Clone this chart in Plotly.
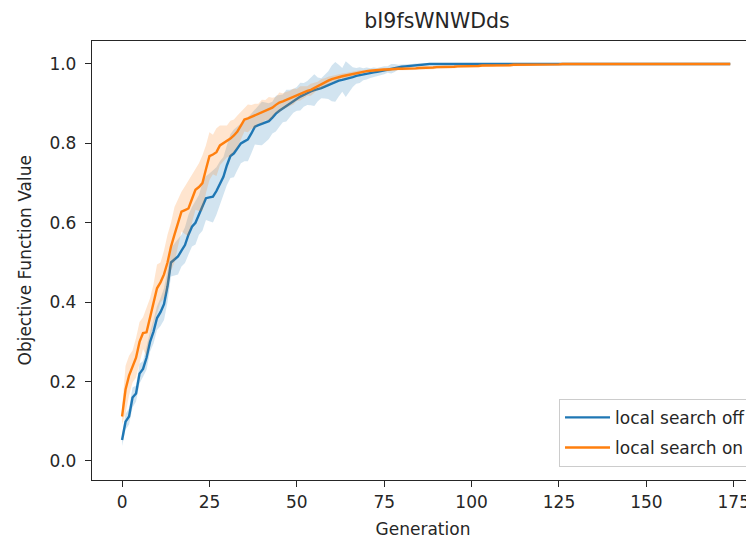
import plotly.graph_objects as go

generations = list(range(175))

off_mean = [
    0.053, 0.099, 0.112, 0.160, 0.170, 0.220, 0.232, 0.260, 0.300, 0.326,
    0.360, 0.375, 0.395, 0.440, 0.500, 0.508, 0.515, 0.530, 0.544, 0.570,
    0.590, 0.600, 0.620, 0.640, 0.662, 0.664, 0.666, 0.680, 0.700, 0.716,
    0.745, 0.768, 0.775, 0.788, 0.800, 0.805, 0.810, 0.825, 0.842, 0.846,
    0.850, 0.853, 0.856, 0.865, 0.875, 0.882, 0.888, 0.895, 0.900, 0.907,
    0.912, 0.918, 0.922, 0.927, 0.931, 0.934, 0.936, 0.939, 0.943, 0.947,
    0.951, 0.955, 0.958, 0.960, 0.962, 0.964, 0.967, 0.970, 0.972, 0.974,
    0.976, 0.977, 0.979, 0.980, 0.982, 0.984, 0.986, 0.988, 0.990, 0.992,
    0.993, 0.994, 0.995, 0.996, 0.997, 0.998, 0.999, 1.000, 1.000, 1.000,
    1.000, 1.000, 1.000, 1.000, 1.000, 1.000, 1.000, 1.000, 1.000, 1.000,
    1.000, 1.000, 1.000, 1.000, 1.000, 1.000, 1.000, 1.000, 1.000, 1.000,
    1.000, 1.000, 1.000, 1.000, 1.000, 1.000, 1.000, 1.000, 1.000, 1.000,
    1.000, 1.000, 1.000, 1.000, 1.000, 1.000, 1.000, 1.000, 1.000, 1.000,
    1.000, 1.000, 1.000, 1.000, 1.000, 1.000, 1.000, 1.000, 1.000, 1.000,
    1.000, 1.000, 1.000, 1.000, 1.000, 1.000, 1.000, 1.000, 1.000, 1.000,
    1.000, 1.000, 1.000, 1.000, 1.000, 1.000, 1.000, 1.000, 1.000, 1.000,
    1.000, 1.000, 1.000, 1.000, 1.000, 1.000, 1.000, 1.000, 1.000, 1.000,
    1.000, 1.000, 1.000, 1.000, 1.000,
]

off_std = [
    0.015, 0.020, 0.020, 0.025, 0.020, 0.025, 0.020, 0.030, 0.025, 0.030,
    0.030, 0.035, 0.040, 0.040, 0.035, 0.040, 0.045, 0.040, 0.045, 0.050,
    0.050, 0.055, 0.050, 0.060, 0.055, 0.060, 0.065, 0.060, 0.055, 0.050,
    0.050, 0.055, 0.060, 0.055, 0.050, 0.050, 0.055, 0.050, 0.045, 0.050,
    0.055, 0.050, 0.045, 0.040, 0.045, 0.040, 0.035, 0.040, 0.035, 0.030,
    0.030, 0.035, 0.030, 0.030, 0.035, 0.040, 0.030, 0.025, 0.030, 0.035,
    0.045, 0.050, 0.040, 0.030, 0.045, 0.035, 0.025, 0.020, 0.020, 0.015,
    0.015, 0.012, 0.012, 0.010, 0.010, 0.010, 0.008, 0.012, 0.010, 0.006,
    0.006, 0.005, 0.005, 0.004, 0.004, 0.003, 0.003, 0.002, 0.002, 0.002,
    0.002, 0.002, 0.002, 0.002, 0.002, 0.002, 0.002, 0.002, 0.002, 0.002,
    0.002, 0.002, 0.002, 0.002, 0.002, 0.002, 0.002, 0.002, 0.002, 0.002,
    0.002, 0.002, 0.002, 0.002, 0.002, 0.002, 0.002, 0.002, 0.002, 0.002,
    0.002, 0.002, 0.002, 0.002, 0.002, 0.002, 0.002, 0.002, 0.002, 0.002,
    0.002, 0.002, 0.002, 0.002, 0.002, 0.002, 0.001, 0.001, 0.001, 0.001,
    0.001, 0.001, 0.001, 0.001, 0.001, 0.001, 0.001, 0.001, 0.001, 0.001,
    0.001, 0.001, 0.001, 0.001, 0.001, 0.001, 0.001, 0.001, 0.001, 0.001,
    0.001, 0.001, 0.001, 0.001, 0.001, 0.001, 0.001, 0.001, 0.001, 0.001,
    0.001, 0.001, 0.001, 0.001, 0.001,
]

on_mean = [
    0.112, 0.180, 0.215, 0.238, 0.260, 0.300, 0.322, 0.324, 0.360, 0.395,
    0.435, 0.450, 0.470, 0.500, 0.540, 0.570, 0.600, 0.628, 0.632, 0.636,
    0.660, 0.683, 0.690, 0.700, 0.735, 0.768, 0.772, 0.778, 0.795, 0.800,
    0.805, 0.812, 0.820, 0.830, 0.845, 0.860, 0.863, 0.867, 0.870, 0.875,
    0.880, 0.884, 0.887, 0.890, 0.897, 0.903, 0.906, 0.910, 0.914, 0.918,
    0.922, 0.926, 0.929, 0.932, 0.935, 0.940, 0.945, 0.950, 0.954, 0.958,
    0.962, 0.965, 0.967, 0.969, 0.971, 0.973, 0.975, 0.977, 0.979, 0.981,
    0.982, 0.983, 0.984, 0.985, 0.985, 0.986, 0.986, 0.987, 0.987, 0.988,
    0.988, 0.988, 0.989, 0.989, 0.989, 0.990, 0.990, 0.990, 0.991, 0.991,
    0.992, 0.992, 0.992, 0.993, 0.993, 0.993, 0.994, 0.994, 0.994, 0.995,
    0.995, 0.995, 0.995, 0.996, 0.996, 0.996, 0.996, 0.997, 0.997, 0.997,
    0.997, 0.997, 0.998, 0.998, 0.998, 0.998, 0.998, 0.998, 0.999, 0.999,
    0.999, 0.999, 0.999, 0.999, 0.999, 0.999, 1.000, 1.000, 1.000, 1.000,
    1.000, 1.000, 1.000, 1.000, 1.000, 1.000, 1.000, 1.000, 1.000, 1.000,
    1.000, 1.000, 1.000, 1.000, 1.000, 1.000, 1.000, 1.000, 1.000, 1.000,
    1.000, 1.000, 1.000, 1.000, 1.000, 1.000, 1.000, 1.000, 1.000, 1.000,
    1.000, 1.000, 1.000, 1.000, 1.000, 1.000, 1.000, 1.000, 1.000, 1.000,
    1.000, 1.000, 1.000, 1.000, 1.000,
]

on_std = [
    0.020, 0.060, 0.050, 0.040, 0.050, 0.050, 0.040, 0.060, 0.050, 0.050,
    0.060, 0.050, 0.060, 0.070, 0.060, 0.070, 0.060, 0.050, 0.060, 0.070,
    0.060, 0.050, 0.060, 0.070, 0.060, 0.060, 0.050, 0.060, 0.050, 0.045,
    0.040, 0.045, 0.040, 0.040, 0.035, 0.030, 0.035, 0.030, 0.030, 0.025,
    0.030, 0.025, 0.030, 0.025, 0.020, 0.025, 0.020, 0.020, 0.018, 0.020,
    0.015, 0.018, 0.015, 0.012, 0.015, 0.012, 0.010, 0.012, 0.010, 0.010,
    0.008, 0.008, 0.007, 0.007, 0.006, 0.006, 0.005, 0.005, 0.005, 0.004,
    0.004, 0.004, 0.004, 0.004, 0.004, 0.004, 0.004, 0.004, 0.004, 0.004,
    0.004, 0.004, 0.004, 0.004, 0.004, 0.004, 0.004, 0.004, 0.004, 0.004,
    0.004, 0.004, 0.004, 0.004, 0.004, 0.004, 0.004, 0.004, 0.004, 0.004,
    0.003, 0.003, 0.003, 0.003, 0.003, 0.003, 0.003, 0.003, 0.003, 0.003,
    0.003, 0.003, 0.003, 0.003, 0.003, 0.003, 0.003, 0.003, 0.003, 0.003,
    0.003, 0.003, 0.003, 0.003, 0.003, 0.003, 0.003, 0.003, 0.003, 0.003,
    0.003, 0.003, 0.003, 0.003, 0.003, 0.003, 0.003, 0.003, 0.003, 0.003,
    0.003, 0.003, 0.003, 0.003, 0.003, 0.003, 0.003, 0.003, 0.003, 0.003,
    0.003, 0.003, 0.003, 0.003, 0.003, 0.003, 0.003, 0.003, 0.003, 0.003,
    0.003, 0.003, 0.003, 0.003, 0.003, 0.003, 0.003, 0.003, 0.003, 0.003,
    0.003, 0.003, 0.003, 0.003, 0.003,
]

series = [
    ("local search off", off_mean, off_std, "#1f77b4", "rgba(31,119,180,0.2)"),
    ("local search on", on_mean, on_std, "#ff7f0e", "rgba(255,127,14,0.2)"),
]

x_ticks = [0, 25, 50, 75, 100, 125, 150, 175]
y_ticks = [0.0, 0.2, 0.4, 0.6, 0.8, 1.0]
y_ticktext = ["0.0", "0.2", "0.4", "0.6", "0.8", "1.0"]

fig = go.Figure()
for name, mean, std, color, fill in series:
    upper = [m + s for m, s in zip(mean, std)]
    lower = [m - s for m, s in zip(mean, std)]
    fig.add_trace(go.Scatter(x=generations, y=upper, mode="lines", legendgroup=name,
                             line=dict(width=0, color=fill), showlegend=False,
                             hoverinfo="skip"))
    fig.add_trace(go.Scatter(x=generations, y=lower, mode="lines", legendgroup=name,
                             line=dict(width=0, color=fill), fill="tonexty",
                             fillcolor=fill, showlegend=False, hoverinfo="skip"))
    fig.add_trace(go.Scatter(x=generations, y=mean, mode="lines", name=name,
                             legendgroup=name, line=dict(width=2.4, color=color)))

axis_color = "#262626"
fs = 17
# The page body has an 8px margin, so the figure is sized to the visible area.
fig.update_layout(
    width=746, height=532,
    margin=dict(l=84, r=0, t=33, b=60, autoexpand=False),
    plot_bgcolor="white", paper_bgcolor="white",
    font=dict(family="DejaVu Sans", size=fs, color=axis_color),
    title=dict(text="bI9fsWNWDds", x=429 / 746, xref="container", xanchor="center",
               y=1 - 13 / 532, yref="container", yanchor="middle",
               font=dict(size=20.5, color=axis_color)),
    legend=dict(x=0.997, y=0.03, xanchor="right", yanchor="bottom",
                traceorder="grouped", tracegroupgap=5, itemwidth=45,
                bgcolor="rgba(255,255,255,0.8)", bordercolor="#cccccc", borderwidth=1,
                font=dict(size=fs)),
    showlegend=True,
    annotations=[dict(text="Objective Function Value", xref="paper", yref="paper",
                      x=-(92 - 24) / 662, y=0.5, textangle=-90, showarrow=False,
                      xanchor="center", yanchor="middle",
                      font=dict(size=fs, color=axis_color))],
)
fig.update_xaxes(range=[-8.6, 180.8], tickvals=x_ticks, ticks="outside", ticklen=6,
                 tickwidth=1.3, tickcolor=axis_color, showline=True, linecolor=axis_color,
                 linewidth=1.3, mirror=True, showgrid=False, zeroline=False,
                 automargin=False, tickfont=dict(size=fs),
                 title=dict(text="Generation", standoff=12, font=dict(size=fs)))
fig.update_yaxes(range=[-0.0479, 1.0579], tickvals=y_ticks, ticktext=y_ticktext,
                 ticks="outside", ticklen=6, tickwidth=1.3, tickcolor=axis_color,
                 showline=True, linecolor=axis_color, linewidth=1.3, mirror=False,
                 showgrid=False, zeroline=False, automargin=False,
                 tickfont=dict(size=fs), ticklabelstandoff=5)

fig.write_html("out.html")
